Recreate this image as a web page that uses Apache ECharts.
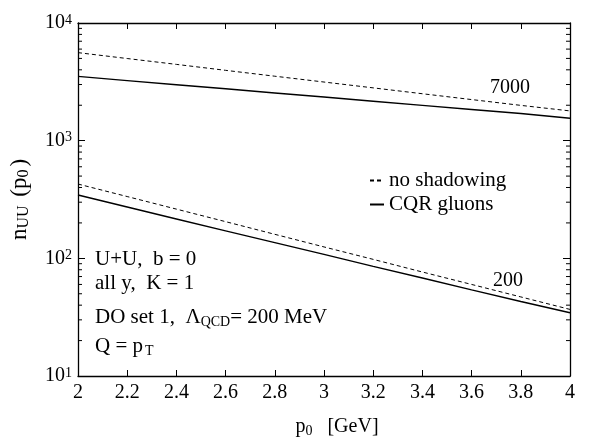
<!DOCTYPE html>
<html><head><meta charset="utf-8">
<script src="https://cdn.jsdelivr.net/npm/echarts@6/dist/echarts.min.js"></script>
<style>html,body{margin:0;padding:0;background:#fff}#c{width:592px;height:443px}</style>
</head><body><div id="c"></div>
<script>
const p0 = [2, 2.2, 2.4, 2.6, 2.8, 3.0, 3.2, 3.4, 3.6, 3.8, 4.0];
const noShad7000 = [5600, 4990, 4450, 3960, 3530, 3150, 2810, 2505, 2235, 1995, 1790];
const cqr7000    = [3520, 3240, 2990, 2760, 2545, 2350, 2165, 1995, 1840, 1700, 1550];
const noShad200  = [428, 335, 262, 205, 160, 125, 98, 76.5, 60, 47, 36.8];
const cqr200     = [345, 273, 216, 171, 136, 108, 85.5, 68, 54, 43, 34.5];
const minorVals = [20,30,40,50,60,70,80,90,200,300,400,500,600,700,800,900,2000,3000,4000,5000,6000,7000,8000,9000];
const xTicks = {min: 2, max: 4, interval: 0.2};

const FONT = '"Liberation Serif","DejaVu Serif",serif';
const pair = a => p0.map((x, i) => [x, a[i]]);
const chart = echarts.init(document.getElementById('c'), null, {renderer: 'canvas'});

const supRich = {
  b: {fontFamily: FONT, fontSize: 20, color: '#000'},
  s: {fontFamily: FONT, fontSize: 14, color: '#000', verticalAlign: 'top', lineHeight: 12, padding: [0,0,8,0]}
};

const axisLineStyle = {color: '#000', width: 1.3};
chart.setOption({
  animation: false,
  grid: {left: 78, right: 22, top: 23, bottom: 65},
  xAxis: [{
    type: 'value', min: xTicks.min, max: xTicks.max, interval: xTicks.interval,
    axisLine: {lineStyle: axisLineStyle, onZero: false},
    axisTick: {inside: true, length: 6, lineStyle: {color: '#000'}},
    splitLine: {show: false},
    axisLabel: {fontFamily: FONT, fontSize: 20, color: '#000', margin: 7,
      formatter: v => String(Math.round(v * 10) / 10)},
    name: '{p|p}{sub|0}{p|   [GeV]}', nameLocation: 'middle', nameGap: 40,
    nameTextStyle: {padding: [0, 0, 0, 26], rich: {
      p: {fontFamily: FONT, fontSize: 20, color: '#000'},
      sub: {fontFamily: FONT, fontSize: 14, color: '#000', verticalAlign: 'bottom', padding: [8,0,0,0]}
    }}
  }, {
    type: 'value', position: 'top', min: xTicks.min, max: xTicks.max, interval: xTicks.interval,
    axisLine: {lineStyle: axisLineStyle, onZero: false},
    axisTick: {inside: true, length: 6, lineStyle: {color: '#000'}},
    axisLabel: {show: false}, splitLine: {show: false}
  }],
  yAxis: [{
    type: 'log', logBase: 10, min: 10, max: 10000,
    axisLine: {show: true, lineStyle: axisLineStyle, onZero: false},
    axisTick: {show: true, inside: true, length: 7, lineStyle: {color: '#000'}},
    splitLine: {show: false},
    axisLabel: {margin: 6, formatter: v => '{b|10}{s|' + Math.round(Math.log10(v)) + '}', rich: supRich},
    name: '{n|n}{sub|UU}{n| (p}{sub|0}{n|)}', nameLocation: 'middle', nameGap: 46, nameRotate: 90,
    nameTextStyle: {rich: {
      n: {fontFamily: FONT, fontSize: 23, color: '#000'},
      sub: {fontFamily: FONT, fontSize: 16, color: '#000', verticalAlign: 'bottom', padding: [9,3,0,0]}
    }}
  }, {
    type: 'log', logBase: 10, min: 10, max: 10000, position: 'right',
    axisLine: {show: true, lineStyle: axisLineStyle, onZero: false},
    axisTick: {show: true, inside: true, length: 7, lineStyle: {color: '#000'}},
    axisLabel: {show: false}, splitLine: {show: false}
  }],
  legend: {
    left: 364, top: 165, orient: 'vertical', itemWidth: 14, itemHeight: 10, itemGap: 3,
    itemStyle: {opacity: 0},
    textStyle: {fontFamily: FONT, fontSize: 21, color: '#000'},
    data: ['no shadowing', 'CQR gluons']
  },
  series: [
    {name: 'no shadowing', type: 'line', data: pair(noShad7000), showSymbol: false, symbol: 'none',
     lineStyle: {color: '#000', width: 1, type: [4, 3]}, itemStyle: {color: '#000'}},
    {name: 'CQR gluons', type: 'line', data: pair(cqr7000), showSymbol: false, symbol: 'none',
     lineStyle: {color: '#000', width: 1.4}, itemStyle: {color: '#000'}},
    {name: 'no shadowing', type: 'line', data: pair(noShad200), showSymbol: false, symbol: 'none',
     lineStyle: {color: '#000', width: 1, type: [4, 3]}, itemStyle: {color: '#000'}},
    {name: 'CQR gluons', type: 'line', data: pair(cqr200), showSymbol: false, symbol: 'none',
     lineStyle: {color: '#000', width: 1.4}, itemStyle: {color: '#000'}},
    {type: 'custom', silent: true, data: minorVals.map(v => [v]),
     renderItem: (params, api) => {
       const v = api.value(0);
       const l = api.coord([xTicks.min, v]);
       const r = api.coord([xTicks.max, v]);
       return {type: 'group', children: [
         {type: 'line', shape: {x1: l[0], y1: l[1], x2: l[0] + 4, y2: l[1]}, style: {stroke: '#000', lineWidth: 1}},
         {type: 'line', shape: {x1: r[0], y1: r[1], x2: r[0] - 4, y2: r[1]}, style: {stroke: '#000', lineWidth: 1}}
       ]};
     }}
  ],
  graphic: [
    {type: 'text', left: 490, top: 78, style: {text: '7000', font: '20px ' + FONT, fill: '#000'}},
    {type: 'text', left: 493, top: 271, style: {text: '200', font: '20px ' + FONT, fill: '#000'}},
    {type: 'text', left: 95, top: 249, style: {text: 'U+U,  b = 0', font: '21px ' + FONT, fill: '#000'}},
    {type: 'text', left: 95, top: 273, style: {text: 'all y,  K = 1', font: '21px ' + FONT, fill: '#000'}},
    {type: 'text', left: 95, top: 307, style: {
      text: '{t|DO set 1,  Λ}{s|QCD}{t|= 200 MeV}',
      rich: {t: {fontFamily: FONT, fontSize: 21, color: '#000'},
             s: {fontFamily: FONT, fontSize: 14, color: '#000', verticalAlign: 'bottom', padding: [9,0,0,0]}}}},
    {type: 'text', left: 95, top: 336, style: {
      text: '{t|Q = p}{s|T}',
      rich: {t: {fontFamily: FONT, fontSize: 21, color: '#000'},
             s: {fontFamily: FONT, fontSize: 14, color: '#000', verticalAlign: 'bottom', padding: [9,0,0,2]}}}}
  ]
});
</script></body></html>
